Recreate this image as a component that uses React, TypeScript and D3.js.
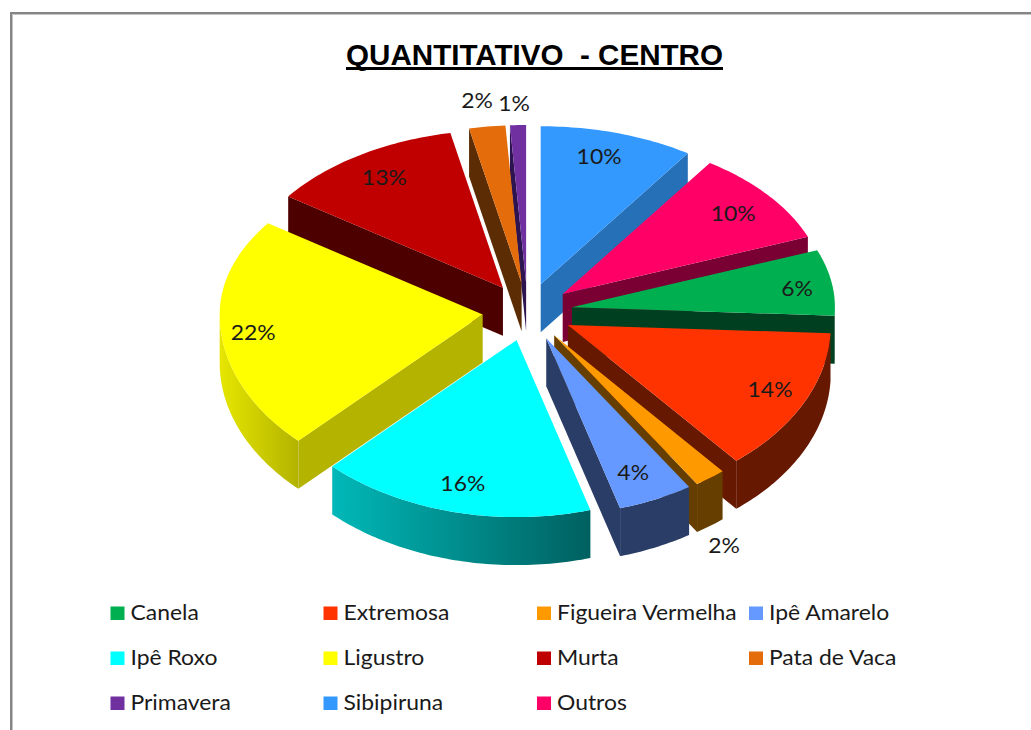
import React from "react";
import * as d3 from "d3";

const categories = ["Sibipiruna","Outros","Canela","Extremosa","Figueira Vermelha","Ipê Amarelo","Ipê Roxo","Ligustro","Murta","Pata de Vaca","Primavera"];
const shares = [9.45,9.66,6.64,13.19,1.92,4.61,16.89,22.44,12.0,2.22,0.98];
const percentLabels = ["10%","10%","6%","14%","2%","4%","16%","22%","13%","2%","1%"];
const topColors = ["#3399ff","#ff0066","#00b050","#ff3300","#ff9900","#6699ff","#00ffff","#ffff00","#c00000","#e46c0a","#7030a0"];
const sideColors = ["#2670b8","#7a0033","#004020","#661800","#663f00","#2a3d66","#006666","#b3b300","#4d0000","#5c2d05","#2d1350"];
const outerLight = ["#2670b8","#7a0033","#004020","#661800","#663f00","#2a3d66","#00b8b8","#e6e600","#4d0000","#5c2d05","#2d1350"];
const outerDark = ["#2670b8","#7a0033","#004020","#661800","#663f00","#2a3d66","#006060","#b3b300","#4d0000","#5c2d05","#2d1350"];
const legendOrder = ["Canela","Extremosa","Figueira Vermelha","Ipê Amarelo","Ipê Roxo","Ligustro","Murta","Pata de Vaca","Primavera","Sibipiruna","Outros"];
const titleText = "QUANTITATIVO  - CENTRO";
// where each percent label sits: direction in degrees clockwise from 12 o'clock, and fraction of the radius
const labelAngle = [15.4,51.7,82,115.5,151.4,156.5,194.2,263.3,327,351.7,357.7];
const labelFrac = [0.836,0.826,0.864,0.852,1.35,0.829,0.833,0.879,0.828,1.171,1.134];

const W = 1031, H = 730;
const cx = 527.5, cy = 312;
const R = 263, backRy = 158, frontRy = 177, depth = 48;
const explodeX = 45, explodeY = 29;
const textSize = 21.5, textStretch = 1.065;

const pieGen = d3.pie<number>().sort(null).startAngle(0).endAngle(2 * Math.PI);
const arcs = pieGen(shares);

type Pt = [number, number];
function apexOf(mid: number): Pt {
  return [cx + explodeX * Math.sin(mid), cy - explodeY * Math.cos(mid)];
}
function rim(apex: Pt, a: number, r = 1): Pt {
  const c = -Math.cos(a);
  const ry = c > 0 ? frontRy : backRy;
  return [apex[0] + R * r * Math.sin(a), apex[1] + ry * r * c];
}
function arcPts(apex: Pt, a0: number, a1: number, dy = 0): Pt[] {
  const n = Math.max(2, Math.ceil(((a1 - a0) * 180) / Math.PI));
  return d3.range(n + 1).map((i) => {
    const p = rim(apex, a0 + ((a1 - a0) * i) / n);
    return [p[0], p[1] + dy] as Pt;
  });
}
const line = d3.line<Pt>();

export default function App() {
  const order = arcs.map((_, i) => i).sort((a, b) => {
    const ma = (arcs[a].startAngle + arcs[a].endAngle) / 2;
    const mb = (arcs[b].startAngle + arcs[b].endAngle) / 2;
    return Math.abs(mb - Math.PI) - Math.abs(ma - Math.PI);
  });
  const font = "Lato, Carlito, sans-serif";
  const cols = [110.5, 323.5, 537, 749], rows = [613, 658, 703];

  return (
    <svg width={W} height={H} style={{ position: "absolute", left: 0, top: 0, background: "#fff" }}>
      <defs>
        {arcs.map((d, i) => (
          <linearGradient key={i} id={`outer${i}`} gradientUnits="objectBoundingBox" x1="0" x2="1" y1="0" y2="0">
            <stop offset="0" stopColor={outerLight[i]} />
            <stop offset="1" stopColor={outerDark[i]} />
          </linearGradient>
        ))}
      </defs>
      <path d={`M${W},14.5H12.5V${H}`} fill="none" stroke="#c4c4c4" strokeWidth={1} />
      <path d={`M${W},13H11V${H}`} fill="none" stroke="#858585" strokeWidth={2} />
      <text x={534.5} y={65} textAnchor="middle" fontFamily="'Liberation Sans', Arial, sans-serif" fontWeight="bold" fontSize={30} textLength={377} lengthAdjust="spacingAndGlyphs" fill="#000" style={{ whiteSpace: "pre" }}>{titleText}</text>
      <rect x={346} y={67} width={377} height={3} fill="#000" />
      {order.map((i) => {
        const d = arcs[i];
        const a0 = d.startAngle, a1 = d.endAngle, mid = (a0 + a1) / 2;
        const apex = apexOf(mid);
        const p0 = rim(apex, a0), p1 = rim(apex, a1);
        const faces: React.ReactNode[] = [];
        const sideFace = (p: Pt, key: string) => {
          const pts: Pt[] = [apex, p, [p[0], p[1] + depth], [apex[0], apex[1] + depth]];
          faces.push(<path key={key} d={line(pts) + "Z"} fill={sideColors[i]} />);
        };
        if (a1 < Math.PI) sideFace(p1, "e");
        if (a0 > Math.PI) sideFace(p0, "s");
        const oa0 = Math.max(a0, Math.PI / 2), oa1 = Math.min(a1, (3 * Math.PI) / 2);
        if (oa1 > oa0) {
          const top = arcPts(apex, oa0, oa1);
          const bottom = arcPts(apex, oa0, oa1, depth).reverse();
          faces.push(<path key="o" d={line([...top, ...bottom]) + "Z"} fill={`url(#outer${i})`} />);
        }
        const topPath = line([apex, ...arcPts(apex, a0, a1)]) + "Z";
        return (
          <g key={i}>
            {faces}
            <path d={topPath} fill={topColors[i]} />
          </g>
        );
      })}
      {arcs.map((d, i) => {
        const mid = (d.startAngle + d.endAngle) / 2;
        const p = rim(apexOf(mid), (labelAngle[i] * Math.PI) / 180, labelFrac[i]);
        return (
          <text key={i} transform={`translate(${p[0]},${p[1] + 7.5}) scale(${textStretch},1)`} textAnchor="middle" fontFamily={font} fontSize={textSize} fill="#1a1a1a">{percentLabels[i]}</text>
        );
      })}
      {legendOrder.map((name, k) => {
        const col = k < 8 ? k % 4 : k - 8;
        const row = Math.floor(k / 4);
        const idx = categories.indexOf(name);
        return (
          <g key={name}>
            <rect x={cols[col]} y={rows[row] - 6.5} width={14} height={13.5} fill={topColors[idx]} />
            <text transform={`translate(${cols[col] + 20},${rows[row] + 7}) scale(${textStretch},1)`} fontFamily={font} fontSize={textSize} fill="#1a1a1a">{name}</text>
          </g>
        );
      })}
    </svg>
  );
}
